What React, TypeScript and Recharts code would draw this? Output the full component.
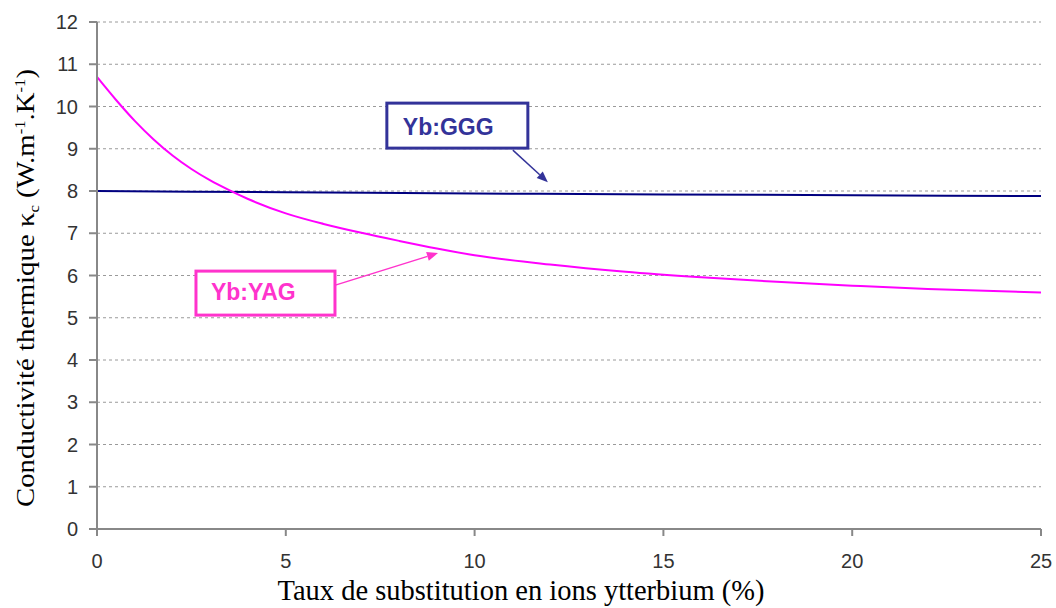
import React from 'react';
import { LineChart, Line, XAxis, YAxis, CartesianGrid, ReferenceDot, Label } from 'recharts';

const X_TICKS = [0, 5, 10, 15, 20, 25];
const Y_TICKS = [0, 1, 2, 3, 4, 5, 6, 7, 8, 9, 10, 11, 12];

const GGG_X = [0, 5, 10, 15, 20, 25];
const GGG_K = [8.0, 7.97, 7.94, 7.92, 7.9, 7.88];

const YAG_X = [0, 0.5, 1, 1.5, 2, 2.5, 3, 3.5, 4, 5, 6, 7, 8, 9, 10, 12, 14, 16, 18, 20, 22, 25];
const YAG_K = [10.7, 10.16, 9.66, 9.22, 8.84, 8.52, 8.25, 8.02, 7.81, 7.47, 7.22, 7.01, 6.82, 6.64, 6.48, 6.26, 6.09, 5.96, 5.85, 5.76, 5.68, 5.6];

const gggData = GGG_X.map((x, i) => ({ x, k: GGG_K[i] }));
const yagData = YAG_X.map((x, i) => ({ x, k: YAG_K[i] }));

const NAVY = '#000080';
const MAGENTA = '#ff00ff';
const TICK_FONT = '"Liberation Sans", Arial, sans-serif';
const SERIF = '"Liberation Serif", "Times New Roman", serif';

// callout box + arrow, anchored at the arrow tip (cx, cy)
const Callout = ({ cx, cy, text, color, box, from, textPos }: any) => {
  const sx = cx + from[0];
  const sy = cy + from[1];
  const ang = Math.atan2(cy - sy, cx - sx);
  const L = 11;
  const W = 4.5;
  const bx = cx - L * Math.cos(ang);
  const by = cy - L * Math.sin(ang);
  const p1 = `${bx + W * Math.sin(ang)},${by - W * Math.cos(ang)}`;
  const p2 = `${bx - W * Math.sin(ang)},${by + W * Math.cos(ang)}`;
  return (
    <g>
      <line x1={sx} y1={sy} x2={bx} y2={by} stroke={color} strokeWidth={1.5} />
      <polygon points={`${cx},${cy} ${p1} ${p2}`} fill={color} />
      <rect x={cx + box[0]} y={cy + box[1]} width={box[2]} height={box[3]} fill="#fff" stroke={color} strokeWidth={3} />
      <text x={cx + textPos[0]} y={cy + textPos[1]} fill={color} fontFamily={TICK_FONT} fontWeight="bold" fontSize={23}>
        {text}
      </text>
    </g>
  );
};

const YTitle = () => (
  <text
    transform="translate(34, 288) rotate(-90)"
    textAnchor="middle"
    fontFamily={SERIF}
    fontSize={26}
    fill="#000"
    textLength={438}
    lengthAdjust="spacingAndGlyphs"
  >
    Conductivité thermique κ
    <tspan fontSize={15} dy={5}>c</tspan>
    <tspan dy={-5}> (W.m</tspan>
    <tspan fontSize={15} dy={-9}>-1</tspan>
    <tspan dy={9}>.K</tspan>
    <tspan fontSize={15} dy={-9}>-1</tspan>
    <tspan dy={9}>)</tspan>
  </text>
);

const XTitle = () => (
  <text
    x={521}
    y={600}
    textAnchor="middle"
    fontFamily={SERIF}
    fontSize={30}
    fill="#000"
    textLength={487}
    lengthAdjust="spacingAndGlyphs"
  >
    Taux de substitution  en ions ytterbium (%)
  </text>
);

export default function App() {
  return (
    <div style={{ position: 'absolute', left: 0, top: 0, width: 1056, height: 608, background: '#fff' }}>
      <LineChart width={1056} height={608} margin={{ top: 22, right: 15, left: 0, bottom: 0 }}>
        <CartesianGrid vertical={false} stroke="#9a9a9a" strokeDasharray="3 3" />
        <XAxis
          type="number"
          dataKey="x"
          domain={[0, 25]}
          ticks={X_TICKS}
          height={79}
          stroke="#888"
          strokeWidth={2}
          tickSize={7}
          tickMargin={18}
          tick={{ fill: '#333', fontSize: 20, fontFamily: TICK_FONT }}
          allowDuplicatedCategory={false}
        >
          <Label content={<XTitle />} />
        </XAxis>
        <YAxis
          type="number"
          domain={[0, 12]}
          ticks={Y_TICKS}
          width={97}
          stroke="#888"
          strokeWidth={2}
          tickSize={8}
          tickMargin={11}
          interval={0}
          tick={{ fill: '#333', fontSize: 20, fontFamily: TICK_FONT }}
        >
          <Label content={<YTitle />} />
        </YAxis>
        <Line data={gggData} dataKey="k" type="monotone" stroke={NAVY} strokeWidth={2} dot={false} isAnimationActive={false} />
        <Line data={yagData} dataKey="k" type="monotone" stroke={MAGENTA} strokeWidth={2} dot={false} isAnimationActive={false} />
        <ReferenceDot
          x={11.94}
          y={8.21}
          r={0}
          shape={(p: any) => (
            <Callout cx={p.cx} cy={p.cy} text="Yb:GGG" color="#333399" box={[-161, -79, 141, 45]} from={[-35, -32]} textPos={[-145, -47]} />
          )}
        />
        <ReferenceDot
          x={9.03}
          y={6.53}
          r={0}
          shape={(p: any) => (
            <Callout cx={p.cx} cy={p.cy} text="Yb:YAG" color="#ff33cc" box={[-242, 18, 139, 44]} from={[-109, 34]} textPos={[-227, 47]} />
          )}
        />
      </LineChart>
    </div>
  );
}
